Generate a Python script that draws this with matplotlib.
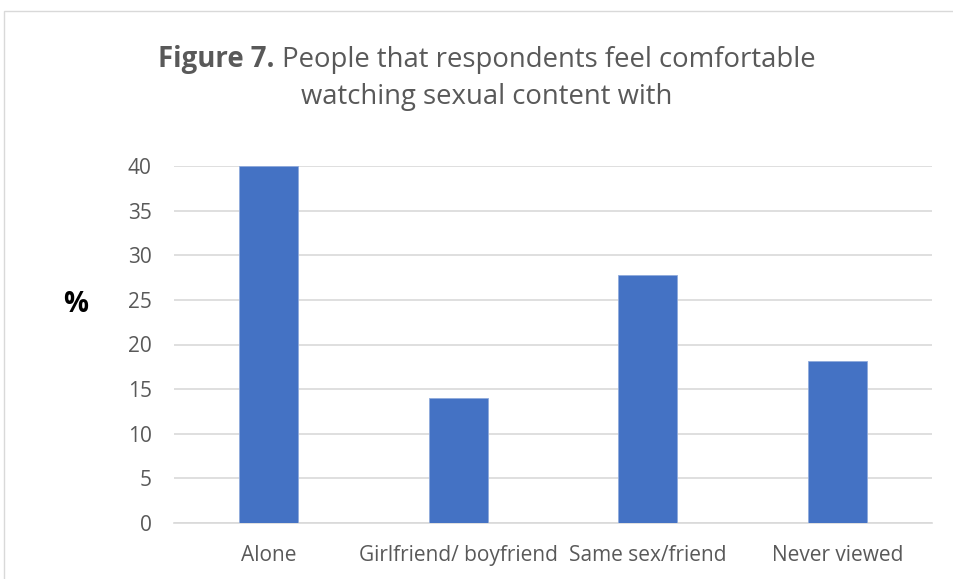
import matplotlib
matplotlib.use("Agg")
import matplotlib.pyplot as plt
from matplotlib.patches import Rectangle

categories = ["Alone", "Girlfriend/ boyfriend", "Same sex/friend", "Never viewed"]
percent = [40, 14, 27.8, 18.2]
y_ticks = [0, 5, 10, 15, 20, 25, 30, 35, 40]

W, H = 954, 579
FONT = "Open Sans"
TXT = "#595959"
GRID = "#d9d9d9"
BAR = "#4472c4"

plt.rcParams["font.family"] = [FONT, "DejaVu Sans"]

fig = plt.figure(figsize=(W / 100, H / 100), dpi=100)
fig.patch.set_facecolor("white")

# chart frame (extends past the right and bottom edges)
fig.patches.append(Rectangle((4 / W, -0.1), 1.2, 1 - 11 / H + 0.1,
                             transform=fig.transFigure, fill=False,
                             edgecolor=GRID, linewidth=1.0))

left, right = 174 / W, 932 / W
bottom, top = 1 - 523 / H, 1 - 166 / H
ax = fig.add_axes([left, bottom, right - left, top - bottom])

x = range(len(categories))
ax.bar(x, percent, width=0.31, color=BAR, zorder=3,
       edgecolor="#8faadc", linewidth=0.6)
ax.set_xlim(-0.5, len(categories) - 0.5)
ax.set_ylim(0, 40)
ax.set_yticks(y_ticks)
ax.set_xticks(list(x))
ax.set_xticklabels(categories)
ax.yaxis.grid(True, color=GRID, linewidth=1.2, zorder=0)
ax.set_axisbelow(True)
for s in ["top", "right", "left"]:
    ax.spines[s].set_visible(False)
ax.spines["bottom"].set_color(GRID)
ax.spines["bottom"].set_linewidth(1.2)
ax.tick_params(axis="both", length=0, colors=TXT)
ax.tick_params(axis="y", labelsize=15, pad=16)
ax.tick_params(axis="x", labelsize=15, pad=15.5)

fig.text(76 / W, 1 - 304 / H, "%", fontsize=20, fontweight="bold",
         color="black", ha="center", va="center")

# title: bold lead-in followed by regular text, centred as one line
fig.canvas.draw()
r = fig.canvas.get_renderer()
cx = 487 / W
y1 = 1 - 67 / H
TS = 19.8
t_bold = fig.text(0, y1, "Figure 7.", fontsize=TS, fontweight="bold",
                  color=TXT, ha="left", va="baseline")
t_norm = fig.text(0, y1, " People that respondents feel comfortable",
                  fontsize=TS, color=TXT, ha="left", va="baseline")
wb = t_bold.get_window_extent(r).width / W
wn = t_norm.get_window_extent(r).width / W
x0 = cx - (wb + wn) / 2
t_bold.set_x(x0)
t_norm.set_x(x0 + wb)
fig.text(cx, 1 - 104 / H, "watching sexual content with", fontsize=TS,
         color=TXT, ha="center", va="baseline")

fig.savefig("out.png", dpi=100, facecolor="white")
